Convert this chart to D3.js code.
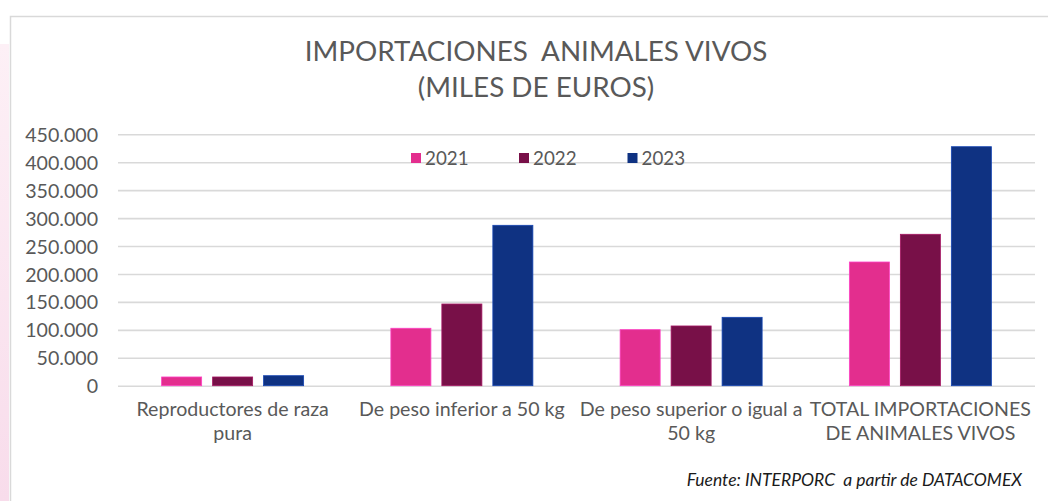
<!DOCTYPE html>
<html>
<head>
<meta charset="utf-8">
<script src="https://cdn.jsdelivr.net/npm/d3@7"></script>
<style>
  html, body { margin: 0; padding: 0; background: #fff; }
  svg { display: block; }
  text { font-family: Lato, "Open Sans", sans-serif; }
</style>
</head>
<body>
<svg id="chart" width="1048" height="501"></svg>
<script>
// Import values of live animals, thousands of euros
const categories = [
  ["Reproductores de raza", "pura"],
  ["De peso inferior a 50 kg"],
  ["De peso superior o igual a", "50 kg"],
  ["TOTAL IMPORTACIONES", "DE ANIMALES VIVOS"]
];
const years = ["2021", "2022", "2023"];
const values2021 = [15600, 102800, 100300, 221400];
const values2022 = [15600, 146200, 106900, 271000];
const values2023 = [17900, 287100, 122400, 427800];
const yTicks = [0, 50000, 100000, 150000, 200000, 250000, 300000, 350000, 400000, 450000];
const colors = ["#e32e8e", "#781048", "#0f3282"];
const titleLines = ["IMPORTACIONES  ANIMALES VIVOS", "(MILES DE EUROS)"];
const sourceNote = "Fuente: INTERPORC  a partir de DATACOMEX";

const seriesValues = [values2021, values2022, values2023];
const catKeys = categories.map(c => c.join(" "));

const svg = d3.select("#chart");
const W = 1048, H = 501;

// soft pink strip on the far left
const defs = svg.append("defs");
const grad = defs.append("linearGradient").attr("id", "strip").attr("x1", 0).attr("x2", 0).attr("y1", 0).attr("y2", 1);
grad.append("stop").attr("offset", "0").attr("stop-color", "#fdf0f6");
grad.append("stop").attr("offset", "1").attr("stop-color", "#f8dceb");
svg.append("rect").attr("x", 0).attr("y", 44).attr("width", 9).attr("height", H - 44).attr("fill", "url(#strip)");

// chart frame
svg.append("path")
  .attr("d", `M10.5,${H} V16.5 H${W}`)
  .attr("fill", "none").attr("stroke", "#d9d9d9").attr("stroke-width", 1.5);

// title
svg.append("text")
  .attr("x", 536).attr("y", 61)
  .attr("text-anchor", "middle")
  .attr("fill", "#595959").attr("font-size", 27.8)
  .selectAll("tspan").data(titleLines).join("tspan")
  .attr("x", 536).attr("dy", (d, i) => i === 0 ? 0 : 36)
  .style("white-space", "pre")
  .text(d => d);

const plot = { left: 118, right: 1035, top: 134.3, bottom: 385.7 };

const x0 = d3.scaleBand().domain(catKeys).range([plot.left, plot.right]).padding(0);
const groupW = 142;
const x1 = d3.scaleBand().domain(years)
  .range([(x0.bandwidth() - groupW) / 2, (x0.bandwidth() + groupW) / 2])
  .paddingInner(0.215).paddingOuter(0);
const y = d3.scaleLinear().domain([0, 450000]).range([plot.bottom, plot.top]);

const locale = d3.formatLocale({ decimal: ",", thousands: ".", grouping: [3], currency: ["", " €"] });
const fmt = locale.format(",d");

// gridlines + y labels
const yAxis = d3.axisLeft(y).tickValues(yTicks).tickFormat(fmt)
  .tickSize(-(plot.right - plot.left)).tickPadding(20);
const gy = svg.append("g").attr("transform", `translate(${plot.left},0)`).call(yAxis);
gy.select(".domain").remove();
gy.selectAll(".tick line").attr("stroke", "#d9d9d9").attr("stroke-width", 1.6);
gy.selectAll(".tick text").attr("fill", "#595959").attr("font-size", 19.6)
  .attr("font-family", "Lato, sans-serif").attr("dy", "0.36em");

// bars
const groups = svg.append("g").selectAll("g").data(catKeys).join("g")
  .attr("transform", d => `translate(${x0(d)},0)`);
groups.selectAll("rect")
  .data((d, ci) => years.map((yr, si) => ({ yr, si, v: seriesValues[si][ci] })))
  .join("rect")
  .attr("x", d => x1(d.yr))
  .attr("width", x1.bandwidth())
  .attr("y", d => y(d.v))
  .attr("height", d => y(0) - y(d.v))
  .attr("fill", d => colors[d.si])
  .attr("stroke", d => d3.color(colors[d.si]).brighter(0.9))
  .attr("stroke-width", 0.8);

// category labels
const xAxis = d3.axisBottom(x0).tickSize(0).tickPadding(0).tickFormat("");
const gx = svg.append("g").attr("transform", `translate(0,${plot.bottom})`).call(xAxis);
gx.select(".domain").remove();
gx.selectAll(".tick").each(function (d, i) {
  const t = d3.select(this).append("text")
    .attr("fill", "#595959").attr("font-size", 19.6)
    .attr("text-anchor", "middle").attr("y", 30);
  categories[i].forEach((line, li) => {
    t.append("tspan").attr("x", 0).attr("dy", li === 0 ? 0 : 24).text(line);
  });
});

// legend
const legendX = [411, 519, 627.5];
const lg = svg.append("g").selectAll("g").data(years).join("g")
  .attr("transform", (d, i) => `translate(${legendX[i]},153)`);
lg.append("rect").attr("width", 10).attr("height", 10).attr("fill", (d, i) => colors[i]);
lg.append("text").attr("x", 14).attr("y", 11.5)
  .attr("fill", "#595959").attr("font-size", 18.8).text(d => d);

// source note
svg.append("text")
  .attr("x", 1022).attr("y", 486)
  .attr("text-anchor", "end")
  .attr("font-style", "italic").attr("font-size", 17.5)
  .attr("fill", "#1a1a1a")
  .style("white-space", "pre")
  .text(sourceNote);
</script>
</body>
</html>
